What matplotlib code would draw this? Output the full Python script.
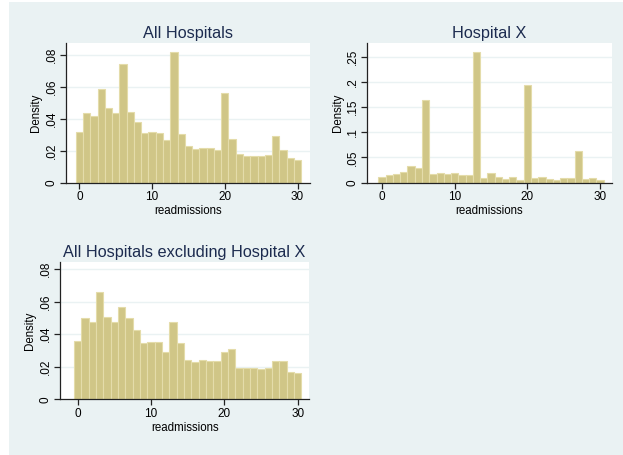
import numpy as np
import matplotlib
matplotlib.use("Agg")
import matplotlib.pyplot as plt
from matplotlib.patches import Rectangle

plt.rcParams['font.family'] = ['Liberation Sans', 'DejaVu Sans']

readmissions = np.arange(0, 31)

all_hospitals = [0.0315, 0.0437, 0.0416, 0.0585, 0.0468, 0.0437, 0.0744, 0.0441,
                 0.0380, 0.0309, 0.0320, 0.0313, 0.0265, 0.0819, 0.0303, 0.0230,
                 0.0209, 0.0215, 0.0215, 0.0203, 0.0560, 0.0274, 0.0178, 0.0167,
                 0.0167, 0.0167, 0.0173, 0.0295, 0.0207, 0.0152, 0.0142]

hospital_x = [0.0112, 0.0152, 0.0172, 0.0212, 0.0324, 0.0291, 0.1640, 0.0179,
              0.0192, 0.0165, 0.0192, 0.0146, 0.0146, 0.2590, 0.0099, 0.0192,
              0.0119, 0.0066, 0.0112, 0.0053, 0.1930, 0.0099, 0.0112, 0.0073,
              0.0053, 0.0099, 0.0099, 0.0622, 0.0079, 0.0093, 0.0046]

excluding_x = [0.0358, 0.0497, 0.0473, 0.0657, 0.0503, 0.0473, 0.0567, 0.0497,
               0.0424, 0.0346, 0.0352, 0.0352, 0.0288, 0.0473, 0.0346, 0.0239,
               0.0227, 0.0243, 0.0233, 0.0233, 0.0293, 0.0309, 0.0194, 0.0194,
               0.0194, 0.0184, 0.0194, 0.0233, 0.0233, 0.0168, 0.0160]

titles = ["All Hospitals", "Hospital X", "All Hospitals excluding Hospital X"]
yticks_small = [0, 0.02, 0.04, 0.06, 0.08]
ylabels_small = ["0", ".02", ".04", ".06", ".08"]
yticks_big = [0, 0.05, 0.1, 0.15, 0.2, 0.25]
ylabels_big = ["0", ".05", ".1", ".15", ".2", ".25"]

bg = '#EAF2F3'
bar_fill = '#D0C687'
bar_edge = '#E4DCAA'
title_color = '#1C2B4F'

fig = plt.figure(figsize=(6.23, 4.55), dpi=100)
fig.patch.set_facecolor('white')
fig.patches.append(Rectangle((9 / 623, 0), 1 - 9 / 623, 1 - 2 / 455,
                             transform=fig.transFigure, facecolor=bg,
                             edgecolor='none', zorder=-10))

panels = [
    ([0.1055, 0.5985, 0.392, 0.307], all_hospitals, (-1.87, 31.7), 0.0875,
     yticks_small, ylabels_small),
    ([0.5896, 0.5985, 0.3923, 0.307], hospital_x, (-2.02, 31.6), 0.277,
     yticks_big, ylabels_big),
    ([0.0963, 0.1224, 0.4002, 0.3024], excluding_x, (-2.41, 31.58), 0.0845,
     yticks_small, ylabels_small),
]

for (rect, vals, xl, ytop, yt, ylab), title in zip(panels, titles):
    ax = fig.add_axes(rect)
    ax.set_facecolor('white')
    ax.bar(readmissions, vals, width=1.0, color=bar_fill, edgecolor=bar_edge,
           linewidth=0.8, zorder=3)
    ax.set_xlim(*xl)
    ax.set_ylim(0, ytop)
    ax.set_xticks([0, 10, 20, 30])
    ax.set_yticks(yt)
    ax.set_yticklabels(ylab, rotation=90, va='center')
    for t in yt[1:]:
        ax.axhline(t, color=bg, linewidth=1.0, zorder=1)
    for s in ['top', 'right']:
        ax.spines[s].set_visible(False)
    for s in ['left', 'bottom']:
        ax.spines[s].set_color('#222222')
        ax.spines[s].set_linewidth(0.9)
        ax.spines[s].set_zorder(4)
    ax.tick_params(axis='both', direction='out', length=4, width=0.9,
                   color='#222222', labelsize=8.5, pad=2)
    ax.set_xlabel('readmissions', fontsize=8.3, labelpad=1.5)
    ax.set_ylabel('Density', fontsize=8.3, labelpad=2.5)
    ax.set_title(title, fontsize=11.7, color=title_color, pad=3.5)

fig.savefig('out.png', dpi=100, facecolor='white')
